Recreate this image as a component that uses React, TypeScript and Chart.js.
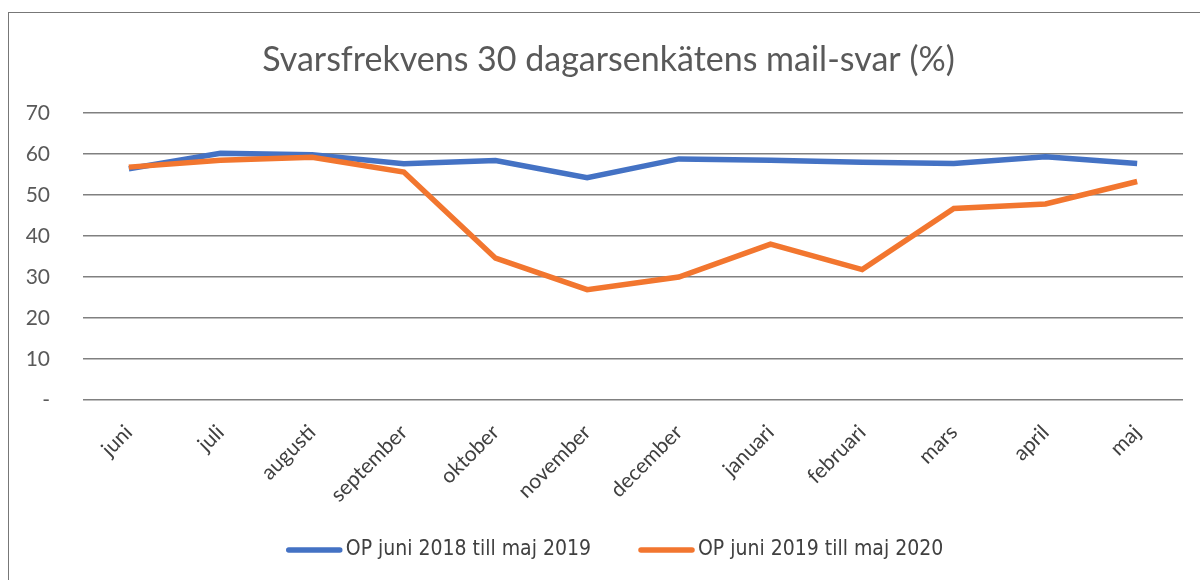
import React, { useEffect, useRef } from "react";
import { Chart, registerables } from "chart.js";

Chart.register(...registerables);

const categories = [
  "juni", "juli", "augusti", "september", "oktober", "november",
  "december", "januari", "februari", "mars", "april", "maj",
];
const series2018 = [56.4, 60.2, 59.8, 57.6, 58.4, 54.2, 58.8, 58.5, 58.0, 57.7, 59.3, 57.7];
const series2019 = [56.8, 58.5, 59.2, 55.6, 34.6, 26.9, 30.0, 38.0, 31.8, 46.7, 47.8, 53.3];
const seriesLabels = ["OP juni 2018 till maj 2019", "OP juni 2019 till maj 2020"];
const titleText = "Svarsfrekvens 30 dagarsenkätens mail-svar (%)";
const yTicks = [0, 10, 20, 30, 40, 50, 60, 70];

const BLUE = "#4472C4";
const ORANGE = "#F2762F";
const TEXT = "#595959";
const FONT = "Lato, 'Open Sans', sans-serif";
const NARROW = "'Liberation Sans Narrow', 'DejaVu Sans Condensed', Lato, sans-serif";

const titlePlugin = {
  id: "offsetTitle",
  afterDraw(chart: any) {
    const ctx = chart.ctx;
    ctx.save();
    ctx.font = `normal 34px ${FONT}`;
    ctx.fillStyle = TEXT;
    ctx.textAlign = "center";
    ctx.textBaseline = "middle";
    ctx.fillText(titleText, 608.5, 60.5);
    ctx.restore();
  },
};

const legendPlugin = {
  id: "lineLegend",
  afterDraw(chart: any) {
    const ctx = chart.ctx;
    const lineW = 55;
    const gap = 4;
    const itemGap = 48;
    const y = 550;
    const centerX = 615;
    ctx.save();
    ctx.font = `normal 21px ${NARROW}`;
    const items = chart.data.datasets.map((ds: any) => ({
      label: ds.label as string,
      color: ds.borderColor as string,
      w: ctx.measureText(ds.label).width,
    }));
    const total =
      items.reduce((s: number, it: any) => s + lineW + gap + it.w, 0) + itemGap * (items.length - 1);
    let x = centerX - total / 2;
    for (const it of items) {
      ctx.strokeStyle = it.color;
      ctx.lineWidth = 5.5;
      ctx.lineCap = "round";
      ctx.beginPath();
      ctx.moveTo(x + 2, y);
      ctx.lineTo(x + lineW - 2, y);
      ctx.stroke();
      ctx.fillStyle = "#404040";
      ctx.textAlign = "left";
      ctx.textBaseline = "middle";
      ctx.fillText(it.label, x + lineW + gap, y);
      x += lineW + gap + it.w + itemGap;
    }
    ctx.restore();
  },
};

export default function App() {
  const ref = useRef<HTMLCanvasElement | null>(null);

  useEffect(() => {
    document.body.style.margin = "0";
    if (!ref.current) return;
    const chart = new Chart(ref.current, {
      type: "line",
      data: {
        labels: categories,
        datasets: [
          {
            label: seriesLabels[0],
            data: series2018,
            borderColor: BLUE,
            backgroundColor: BLUE,
            borderWidth: 5.5,
            pointRadius: 0,
            tension: 0,
            order: 1,
          },
          {
            label: seriesLabels[1],
            data: series2019,
            borderColor: ORANGE,
            backgroundColor: ORANGE,
            borderWidth: 5.5,
            pointRadius: 0,
            tension: 0,
            order: 0,
          },
        ],
      },
      plugins: [titlePlugin, legendPlugin],
      options: {
        responsive: false,
        animation: false,
        layout: { padding: { left: 0, right: 17, top: 113, bottom: 40 } },
        plugins: {
          tooltip: { enabled: false },
          title: { display: false },
          legend: { display: false },
        },
        scales: {
          x: {
            offset: true,
            grid: { display: false, drawTicks: false },
            border: { display: false },
            ticks: {
              color: "#404040",
              font: { family: FONT, size: 21 },
              minRotation: 45,
              maxRotation: 45,
              padding: 20,
            },
            afterFit: (s: any) => {
              s.height = 140;
            },
          },
          y: {
            min: 0,
            max: 70,
            afterBuildTicks: (s: any) => {
              s.ticks = yTicks.map((v) => ({ value: v }));
            },
            grid: { color: "#808080", lineWidth: 1.6, drawTicks: false },
            border: { display: false },
            ticks: {
              color: TEXT,
              font: { family: FONT, size: 21 },
              padding: 33,
              callback: (v: any) => (Number(v) === 0 ? "-" : String(v)),
            },
            afterFit: (s: any) => {
              s.width = 83;
            },
          },
        },
      },
    });
    return () => chart.destroy();
  }, []);

  return (
    <div style={{ position: "fixed", left: 0, top: 0, width: 1200, height: 580, background: "#fff" }}>
      <canvas ref={ref} width={1200} height={580} style={{ position: "absolute", left: 0, top: 0 }} />
      <div
        style={{
          position: "absolute",
          left: 8,
          top: 12,
          width: 1200,
          height: 600,
          borderLeft: "1.5px solid #777",
          borderTop: "1.5px solid #777",
          pointerEvents: "none",
        }}
      />
    </div>
  );
}
